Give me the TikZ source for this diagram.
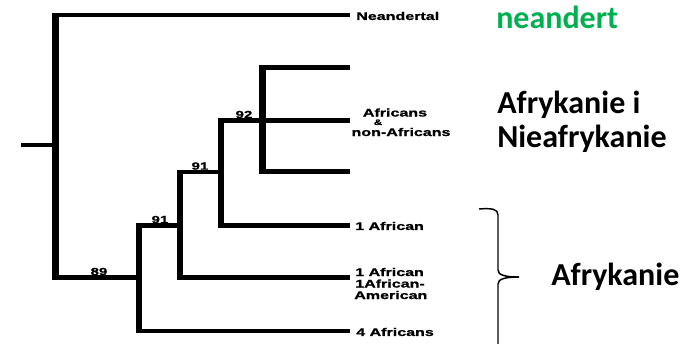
\documentclass[tikz,border=0pt]{standalone}
\usepackage{fontspec}
\newfontfamily\treefont{Liberation Sans}[FakeStretch=1.45, FakeBold=1.2]
\newfontfamily\slidefont{Carlito}
\definecolor{neangreen}{HTML}{00B050}
\tikzset{
  branch/.style={line width=3.4pt, line cap=rect},
  stem/.style={line width=4.9pt, line cap=butt, shorten <=-1.7pt, shorten >=-1.7pt},
  leaflabel/.style={anchor=west, inner sep=0pt, font=\treefont\bfseries\fontsize{8.3}{9.5}\selectfont},
  support/.style={anchor=south, inner sep=0pt, font=\treefont\bfseries\fontsize{7.8}{9}\selectfont},
  slidetext/.style={inner sep=0pt, font=\slidefont\bfseries\fontsize{24}{29}\selectfont},
  bracket/.style={line width=1.1pt}
}
\begin{document}
\begin{tikzpicture}[x=0.75pt, y=-0.75pt]
  \useasboundingbox (0,0) rectangle (689,343);

  % internal nodes of the tree
  \coordinate (stub) at (21,145);
  \coordinate (root) at (55.7,145);
  \coordinate (n89)  at (139,277.5);
  \coordinate (n91a) at (180,225.7);
  \coordinate (n91b) at (221,172);
  \coordinate (n92)  at (262.7,120.7);

  % leaf tips
  \coordinate (lnean) at (348,15);
  \coordinate (la1)   at (348,67.7);
  \coordinate (la2)   at (348,120.7);
  \coordinate (la3)   at (348,171.7);
  \coordinate (l1afr) at (348,225.7);
  \coordinate (lafam) at (348,277.5);
  \coordinate (l4afr) at (348,331);

  % root stub
  \draw[branch, line cap=butt] (stub) -- (root);

  % each edge: vertical stem at the parent, then horizontal branch to the child
  \foreach \p/\c in {root/lnean, root/n89, n89/n91a, n89/l4afr, n91a/n91b,
                     n91a/lafam, n91b/n92, n91b/l1afr, n92/la1, n92/la2, n92/la3} {
    \draw[stem] (\p) -- (\p |- \c);
    \draw[branch] (\p |- \c) -- (\c);
  }

  % bootstrap values
  \node[support] (s89)  at (99,275.5)  {89};
  \node[support] (s91a) at (160,223.5) {91};
  \node[support] (s91b) at (200,170)   {91};
  \node[support] (s92)  at (244,118.5) {92};

  % leaf labels
  \node[leaflabel] (tnean) at (356,16) {Neandertal};
  \node[leaflabel, anchor=base] (tafr) at (395,116.5) {Africans};
  \node[leaflabel, anchor=base, font=\treefont\bfseries\fontsize{6}{7}\selectfont] (tamp) at (378,125) {\&};
  \node[leaflabel, anchor=base] (tnon) at (401,136) {non-Africans};
  \node[leaflabel] (t1afr) at (355,226) {1 African};
  \node[leaflabel, anchor=base west] (tafam1) at (355,276) {1 African};
  \node[leaflabel, anchor=base west] (tafam2) at (355,287.5) {1African-};
  \node[leaflabel, anchor=base west] (tafam3) at (354,299) {American};
  \node[leaflabel] (t4afr) at (356,332) {4 Africans};

  % annotations
  \node[slidetext, anchor=base west, text=neangreen] (anean) at (496,28) {neandert};
  \node[slidetext, anchor=base west] (amix1) at (497,113) {Afrykanie i};
  \node[slidetext, anchor=base west] (amix2) at (497,147) {Nieafrykanie};
  \node[slidetext, anchor=base west] (aafr) at (551,285) {Afrykanie};

  % right brace grouping the African-only leaves
  \coordinate (btop) at (479,209);
  \coordinate (btip) at (519,277);
  \coordinate (bbot) at (498,345);
  \draw[bracket] (btop) .. controls (492,208) and (498,209) .. (498,215)
                 -- (498,270) .. controls (498,275) and (505,277) .. (btip);
  \draw[bracket] (btip) .. controls (505,277) and (498,279) .. (498,284) -- (bbot);
\end{tikzpicture}
\end{document}
